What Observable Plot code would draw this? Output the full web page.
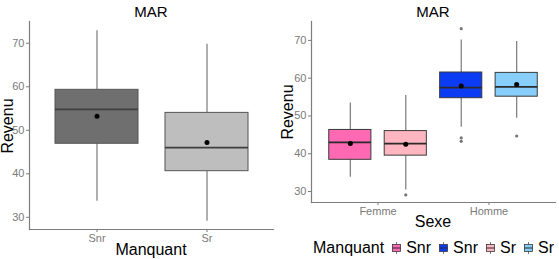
<!DOCTYPE html>
<html>
<head>
<meta charset="utf-8">
<script src="https://cdn.jsdelivr.net/npm/d3@7"></script>
<script src="https://cdn.jsdelivr.net/npm/@observablehq/plot@0.6"></script>
<style>
  html, body { margin: 0; padding: 0; background: #fff; }
  body { width: 559px; height: 259px; position: relative; overflow: hidden;
         font-family: "Liberation Sans", Arial, Helvetica, sans-serif; }
  .abs { position: absolute; }
  .title { font-size: 15px; color: #000; transform: translate(-50%, -50%); white-space: nowrap; }
  .ylab { font-size: 16px; color: #000; transform: translate(-50%, -50%) rotate(-90deg); white-space: nowrap; }
  .xlab { font-size: 16px; color: #000; transform: translate(-50%, -50%); white-space: nowrap; }
  #legend { display: flex; align-items: center; font-size: 16px; color: #000; white-space: nowrap; }
  #legend svg { margin: 0 5px 0 8px; }
</style>
</head>
<body>
<div id="left" class="abs" style="left:0;top:19px;"></div>
<div id="right" class="abs" style="left:280px;top:19px;"></div>
<div class="abs title" style="left:151px;top:11px;">MAR</div>
<div class="abs title" style="left:433px;top:11px;">MAR</div>
<div class="abs ylab" style="left:8px;top:126px;">Revenu</div>
<div class="abs ylab" style="left:288px;top:112px;">Revenu</div>
<div class="abs xlab" style="left:151px;top:250px;">Manquant</div>
<div class="abs xlab" style="left:433px;top:222px;">Sexe</div>
<div id="legend" class="abs" style="left:313px;top:238px;height:20px;"></div>
<script>
// ---- Left panel data (Manquant: Snr / Sr) ----
const manquant = ["Snr", "Sr"];
const leftLow  = [33.7, 29.1];
const leftQ1   = [46.9, 40.6];
const leftMed  = [54.8, 46.0];
const leftQ3   = [59.3, 54.0];
const leftHigh = [72.9, 69.8];
const leftMean = [53.2, 47.2];
const leftFill = ["#6f6f6f", "#bebebe"];

// ---- Right panel data (Sexe x Manquant) ----
const sexeLevels = ["Femme", "Homme"];
const rSexe  = ["Femme", "Femme", "Homme", "Homme"];
const rGroup = ["Snr", "Sr", "Snr", "Sr"];
const rLow   = [33.8, 30.4, 47.0, 49.4];
const rQ1    = [38.4, 39.5, 54.7, 55.1];
const rMed   = [43.0, 42.7, 57.5, 57.7];
const rQ3    = [46.3, 46.0, 61.5, 61.4];
const rHigh  = [53.4, 55.4, 70.1, 69.7];
const rMean  = [42.7, 42.5, 57.9, 58.3];
const rFill  = ["#ff69b4", "#ffb6c1", "#0b3cf4", "#87cefa"];

const outSexe  = ["Femme", "Homme", "Homme", "Homme", "Homme"];
const outGroup = ["Sr", "Snr", "Snr", "Snr", "Sr"];
const outValue = [29.1, 73.1, 44.2, 43.3, 44.7];

const yTicks = [30, 40, 50, 60, 70];

// legend order (as in the reference): Femme-Snr, Homme-Snr, Femme-Sr, Homme-Sr
const legendOrder = [0, 2, 1, 3];

// ---- build tables ----
const leftData = manquant.map((m, i) => ({
  m, low: leftLow[i], q1: leftQ1[i], med: leftMed[i], q3: leftQ3[i],
  high: leftHigh[i], mean: leftMean[i], fill: leftFill[i]
}));

const dodge = 0.25, half = 0.19;
const pos = (s, g) => sexeLevels.indexOf(s) + 1 + (g === "Snr" ? -dodge : dodge);
const rightData = rSexe.map((s, i) => ({
  x: pos(s, rGroup[i]), low: rLow[i], q1: rQ1[i], med: rMed[i], q3: rQ3[i],
  high: rHigh[i], mean: rMean[i], fill: rFill[i]
}));
const outliers = outSexe.map((s, i) => ({ x: pos(s, outGroup[i]), y: outValue[i] }));

const axisColor = "#7d7d7d";
const tickText = "#7a7a7a";
const font = { fontFamily: "Liberation Sans, Arial, Helvetica, sans-serif", fontSize: "11px", background: "transparent", overflow: "visible" };

// ---- Left plot ----
const left = Plot.plot({
  width: 280, height: 240,
  marginLeft: 29, marginRight: 7, marginTop: 2, marginBottom: 30,
  style: font,
  x: { domain: manquant, paddingInner: 0.25, paddingOuter: 0.225, axis: null },
  y: { domain: [27.2, 75], axis: null },
  marks: [
    Plot.ruleX(leftData, { x: "m", y1: "low", y2: "q1", stroke: "#7a7a7a", strokeWidth: 1.2 }),
    Plot.ruleX(leftData, { x: "m", y1: "q3", y2: "high", stroke: "#7a7a7a", strokeWidth: 1.2 }),
    Plot.barY(leftData, { x: "m", y1: "q1", y2: "q3", fill: "fill", stroke: "#555", strokeWidth: 1 }),
    Plot.tickY(leftData, { x: "m", y: "med", stroke: "#3e3e3e", strokeWidth: 1.8 }),
    Plot.dot(leftData, { x: "m", y: "mean", r: 2.5, fill: "#000", stroke: "none" }),
    Plot.axisY({ ticks: yTicks, tickSize: 3, tickPadding: 2, stroke: axisColor, color: tickText, label: null }),
    Plot.axisX({ tickSize: 3, tickPadding: 2, stroke: axisColor, color: tickText, label: null }),
    Plot.frame({ anchor: "left", stroke: axisColor, strokeWidth: 1.2 }),
    Plot.frame({ anchor: "bottom", stroke: axisColor, strokeWidth: 1.2 })
  ]
});
document.getElementById("left").appendChild(left);

// ---- Right plot ----
const right = Plot.plot({
  width: 279, height: 213,
  marginLeft: 31, marginRight: 4, marginTop: 2, marginBottom: 30,
  style: font,
  x: { domain: [0.4, 2.6], axis: null },
  y: { domain: [27.1, 75], axis: null },
  marks: [
    Plot.ruleX(rightData, { x: "x", y1: "low", y2: "q1", stroke: "#7a7a7a", strokeWidth: 1.2 }),
    Plot.ruleX(rightData, { x: "x", y1: "q3", y2: "high", stroke: "#7a7a7a", strokeWidth: 1.2 }),
    Plot.rect(rightData, { x1: d => d.x - half, x2: d => d.x + half, y1: "q1", y2: "q3", fill: "fill", stroke: "#3a3a3a", strokeWidth: 1 }),
    Plot.ruleY(rightData, { x1: d => d.x - half, x2: d => d.x + half, y: "med", stroke: "#2a2a2a", strokeWidth: 1.8 }),
    Plot.dot(outliers, { x: "x", y: "y", r: 1.6, fill: "#777", stroke: "none" }),
    Plot.dot(rightData, { x: "x", y: "mean", r: 2.5, fill: "#000", stroke: "none" }),
    Plot.axisY({ ticks: yTicks, tickSize: 3, tickPadding: 2, stroke: axisColor, color: tickText, label: null }),
    Plot.axisX({ ticks: [1, 2], tickFormat: d => sexeLevels[d - 1], tickSize: 3, tickPadding: 2, stroke: axisColor, color: tickText, label: null }),
    Plot.frame({ anchor: "left", stroke: axisColor, strokeWidth: 1.2 }),
    Plot.frame({ anchor: "bottom", stroke: axisColor, strokeWidth: 1.2 })
  ]
});
document.getElementById("right").appendChild(right);

// ---- Legend ----
const legend = document.getElementById("legend");
const title = document.createElement("span");
title.textContent = "Manquant";
legend.appendChild(title);
legendOrder.forEach(i => {
  const ns = "http://www.w3.org/2000/svg";
  const s = document.createElementNS(ns, "svg");
  s.setAttribute("width", 9); s.setAttribute("height", 12);
  const v = document.createElementNS(ns, "line");
  v.setAttribute("x1", 4.5); v.setAttribute("x2", 4.5); v.setAttribute("y1", 0); v.setAttribute("y2", 12);
  v.setAttribute("stroke", "#7a7a7a");
  const r = document.createElementNS(ns, "rect");
  r.setAttribute("x", 0.5); r.setAttribute("y", 2.5); r.setAttribute("width", 8); r.setAttribute("height", 7);
  r.setAttribute("fill", rFill[i]); r.setAttribute("stroke", "#3a3a3a"); r.setAttribute("stroke-width", 0.8);
  const m = document.createElementNS(ns, "line");
  m.setAttribute("x1", 0.5); m.setAttribute("x2", 8.5); m.setAttribute("y1", 6); m.setAttribute("y2", 6);
  m.setAttribute("stroke", "#2a2a2a"); m.setAttribute("stroke-width", 1);
  s.appendChild(v); s.appendChild(r); s.appendChild(m);
  legend.appendChild(s);
  const t = document.createElement("span");
  t.textContent = rGroup[i];
  legend.appendChild(t);
});
</script>
</body>
</html>
